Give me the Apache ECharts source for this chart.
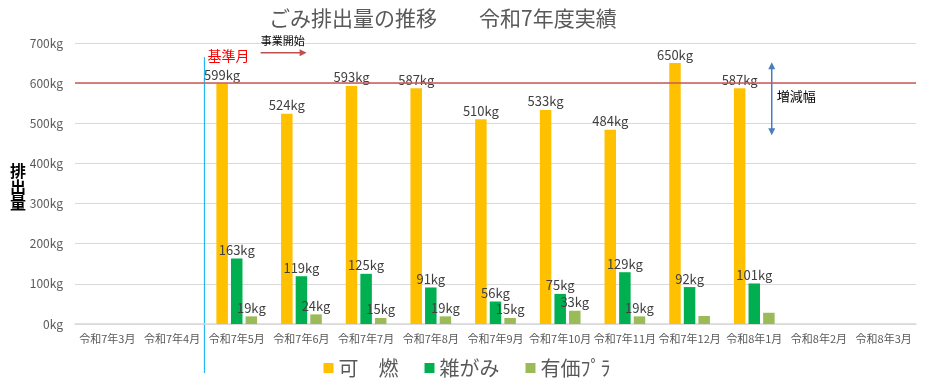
<!DOCTYPE html>
<html><head><meta charset="utf-8">
<script src="https://cdn.jsdelivr.net/npm/echarts@6/dist/echarts.min.js"></script>
<style>html,body{margin:0;padding:0;background:#fff}#c{width:934px;height:384px}</style>
</head><body><div id="c"></div>
<script>
const categories = ['令和7年3月','令和7年4月','令和7年5月','令和7年6月','令和7年7月','令和7年8月','令和7年9月','令和7年10月','令和7年11月','令和7年12月','令和8年1月','令和8年2月','令和8年3月'];
const burnable = [null, null, 599, 524, 593, 587, 510, 533, 484, 650, 587, null, null];
const paper = [null, null, 163, 119, 125, 91, 56, 75, 129, 92, 101, null, null];
const plastic = [null, null, 19, 24, 15, 19, 15, 33, 19, 20, 28, null, null];
const plasticLabelShown = [false, false, true, true, true, true, true, true, true, false, false, false, false];
const baseline = 600;
const yTicks = [0, 100, 200, 300, 400, 500, 600, 700];
const seriesNames = ['可　燃', '雑がみ', '有価ﾌﾟﾗ'];
const colors = ['#ffc000', '#00b050', '#9bbb59'];

const FONT = '"Noto Sans CJK JP", "Noto Sans", sans-serif';
const labelStyle = {show: true, position: 'top', distance: 2, formatter: p => p.value + 'kg', fontSize: 13, color: '#404040', fontFamily: FONT};

const chart = echarts.init(document.getElementById('c'));
chart.setOption({
  animation: false,
  color: colors,
  title: {text: 'ごみ排出量の推移　　令和7年度実績', left: 264, top: 3, textStyle: {fontSize: 21, fontWeight: 'normal', color: '#595959', fontFamily: FONT}},
  grid: {left: 75, right: 18, top: 43, bottom: 60},
  legend: {bottom: 1, left: 'center', itemWidth: 10, itemHeight: 10, itemGap: 26, icon: 'rect',
    textStyle: {fontSize: 20, color: '#595959', fontFamily: FONT}, data: seriesNames},
  xAxis: {type: 'category', data: categories, boundaryGap: true,
    axisTick: {show: false}, axisLine: {lineStyle: {color: '#d9d9d9', width: 1.5}},
    axisLabel: {interval: 0, fontSize: 11, color: '#595959', margin: 9, fontFamily: FONT}},
  yAxis: {type: 'value', min: yTicks[0], max: yTicks[yTicks.length-1], interval: 100,
    axisLine: {show: false}, axisTick: {show: false},
    splitLine: {lineStyle: {color: '#d9d9d9', width: 1.2}},
    axisLabel: {formatter: v => v + 'kg', fontSize: 12, color: '#595959', margin: 12, fontFamily: FONT}},
  series: [
    {name: seriesNames[0], type: 'bar', data: burnable, barWidth: 11.5, barGap: '27%', label: labelStyle,
      markLine: {silent: true, symbol: 'none', label: {show: false}, lineStyle: {color: '#c85a5a', width: 1.5, type: 'solid'}, data: [{yAxis: baseline}]}},
    {name: seriesNames[1], type: 'bar', data: paper, barWidth: 11.5, barGap: '27%', label: labelStyle},
    {name: seriesNames[2], type: 'bar', barWidth: 11.5, barGap: '27%', label: labelStyle,
      data: plastic.map((v, i) => v == null ? null : {value: v, label: {show: plasticLabelShown[i]}})}
  ]
});

function px(cat, val) { return chart.convertToPixel({xAxisIndex: 0, yAxisIndex: 0}, [cat, val]); }
const c1 = px(1, 0), c2 = px(2, 0), c10 = px(10, 0);
const step = c2[0] - c1[0];
const zeroY = c1[1];
const bx = (c1[0] + c2[0]) / 2;
const topY = px(2, 665)[1];
const arrowY = px(2, 676)[1];
const ax0 = c2[0] + 0.37 * step, ax1 = c2[0] + 1.08 * step;
const dx = c10[0] + 0.27 * step;
const dTop = px(10, 652)[1], dBot = px(10, 470)[1];
const blue = '#4a7ebb';
chart.setOption({
  graphic: [
    {type: 'text', left: 10, top: 163, style: {text: '排\n出\n量', fontSize: 16, fontWeight: 'bold', fill: '#000', lineHeight: 16, fontFamily: FONT}},
    {type: 'line', shape: {x1: bx, y1: topY, x2: bx, y2: zeroY + 49}, style: {stroke: '#00b0f0', lineWidth: 1}},
    {type: 'text', x: bx + 3, y: topY - 8, style: {text: '基準月', fontSize: 14, fill: '#ff0000', fontFamily: FONT}},
    {type: 'text', x: ax0, y: arrowY - 17, style: {text: '事業開始', fontSize: 11, fill: '#000', fontFamily: FONT}},
    {type: 'line', shape: {x1: ax0, y1: arrowY, x2: ax1 - 6, y2: arrowY}, style: {stroke: '#c0504d', lineWidth: 1.5}},
    {type: 'polygon', shape: {points: [[ax1, arrowY], [ax1 - 7, arrowY - 3.5], [ax1 - 7, arrowY + 3.5]]}, style: {fill: '#c0504d'}},
    {type: 'line', shape: {x1: dx, y1: dTop + 6, x2: dx, y2: dBot - 6}, style: {stroke: blue, lineWidth: 1.5}},
    {type: 'polygon', shape: {points: [[dx, dTop], [dx - 3.5, dTop + 7], [dx + 3.5, dTop + 7]]}, style: {fill: blue}},
    {type: 'polygon', shape: {points: [[dx, dBot], [dx - 3.5, dBot - 7], [dx + 3.5, dBot - 7]]}, style: {fill: blue}},
    {type: 'text', x: dx + 5, y: px(10, 565)[1] - 8, style: {text: '増減幅', fontSize: 13, fill: '#000', fontFamily: FONT}}
  ]
});
</script></body></html>
